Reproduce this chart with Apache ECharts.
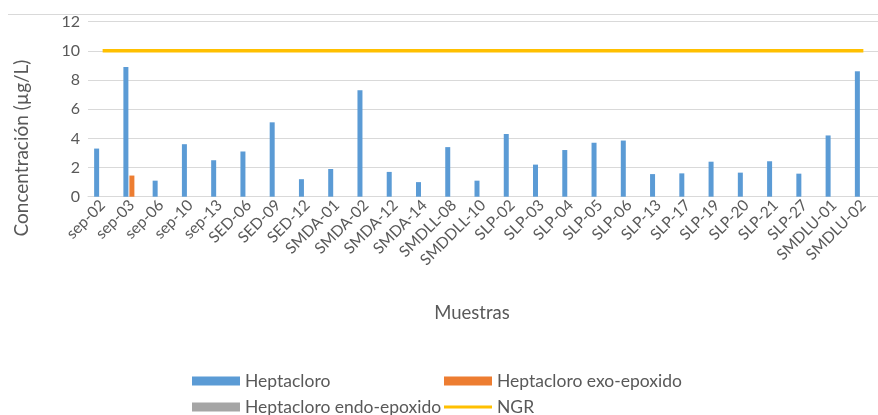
<!DOCTYPE html>
<html>
<head>
<meta charset="utf-8">
<script src="https://cdn.jsdelivr.net/npm/echarts@6/dist/echarts.min.js"></script>
<style>
  html, body { margin: 0; padding: 0; background: #fff; }
  #chart { width: 878px; height: 415px; }
</style>
</head>
<body>
<div id="chart"></div>
<script>
// Sample identifiers
const muestras = ['sep-02','sep-03','sep-06','sep-10','sep-13','SED-06','SED-09','SED-12',
  'SMDA-01','SMDA-02','SMDA-12','SMDA-14','SMDLL-08','SMDDLL-10','SLP-02','SLP-03','SLP-04',
  'SLP-05','SLP-06','SLP-13','SLP-17','SLP-19','SLP-20','SLP-21','SLP-27','SMDLU-01','SMDLU-02'];

// Concentrations (µg/L)
const heptacloro = [3.3, 8.9, 1.1, 3.6, 2.5, 3.1, 5.1, 1.2, 1.9, 7.3, 1.7, 1.0, 3.4, 1.1, 4.3,
  2.2, 3.2, 3.7, 3.85, 1.55, 1.6, 2.4, 1.65, 2.43, 1.58, 4.2, 8.6];
const exoEpoxido = [null, 1.45, null, null, null, null, null, null, null, null, null, null, null,
  null, null, null, null, null, null, null, null, null, null, null, null, null, null];
const endoEpoxido = [null, null, null, null, null, null, null, null, null, null, null, null, null,
  null, null, null, null, null, null, null, null, null, null, null, null, null, null];
const ngr = [10, 10, 10, 10, 10, 10, 10, 10, 10, 10, 10, 10, 10, 10, 10, 10, 10, 10, 10, 10,
  10, 10, 10, 10, 10, 10, 10];

// Value axis ticks
const yTicks = { min: 0, max: 12, interval: 2 };

const FONT = 'Lato';
const TXT = '#595959';
const GRID = '#d9d9d9';

const chart = echarts.init(document.getElementById('chart'));

function legendAt(name, left, top, h) {
  return {
    data: [{ name: name, icon: 'rect' }],
    left: left, top: top, padding: 0,
    itemWidth: 48, itemHeight: h,
    textStyle: { color: TXT, fontFamily: FONT, fontSize: 17.5 },
    selectedMode: false
  };
}

chart.setOption({
  animation: false,
  textStyle: { fontFamily: FONT },
  grid: { left: 88, right: -4, top: 21.7, bottom: 218.3, containLabel: false },
  legend: [
    legendAt('Heptacloro', 192, 372, 9),
    legendAt('Heptacloro exo-epoxido', 444, 372, 9),
    legendAt('Heptacloro endo-epoxido', 192, 398, 9),
    legendAt('NGR', 444, 398, 3)
  ],
  xAxis: {
    type: 'category',
    data: muestras,
    boundaryGap: true,
    axisLine: { lineStyle: { color: GRID, width: 1 } },
    axisTick: { show: false },
    axisLabel: { rotate: 45, interval: 0, color: TXT, fontFamily: FONT, fontSize: 15.5, margin: 6 }
  },
  yAxis: {
    type: 'value',
    min: yTicks.min, max: yTicks.max, interval: yTicks.interval,
    axisLine: { show: false },
    axisTick: { show: false },
    axisLabel: { color: TXT, fontFamily: FONT, fontSize: 16, margin: 8 },
    splitLine: { lineStyle: { color: GRID, width: 1 } }
  },
  series: [
    { name: 'Heptacloro', type: 'bar', data: heptacloro, barWidth: 5, barGap: '20%',
      itemStyle: { color: '#5B9BD5' } },
    { name: 'Heptacloro exo-epoxido', type: 'bar', data: exoEpoxido, barWidth: 5, barGap: '20%',
      itemStyle: { color: '#ED7D31' } },
    { name: 'Heptacloro endo-epoxido', type: 'bar', data: endoEpoxido, barWidth: 5, barGap: '20%',
      itemStyle: { color: '#A5A5A5' } },
    { name: 'NGR', type: 'line', data: ngr, symbol: 'none', z: 5,
      lineStyle: { color: '#FFC000', width: 3.5 }, itemStyle: { color: '#FFC000' } }
  ],
  graphic: [
    { type: 'line', shape: { x1: 8, y1: 14.5, x2: 878, y2: 14.5 },
      style: { stroke: GRID, lineWidth: 1 }, silent: true },
    // Axis titles
    { type: 'text', x: 22, y: 148, rotation: Math.PI / 2, silent: true,
      style: { text: 'Concentración (µg/L)', fill: TXT, font: '19px Lato',
               align: 'center', verticalAlign: 'middle' } },
    { type: 'text', x: 472, y: 313, silent: true,
      style: { text: 'Muestras', fill: TXT, font: '18.5px Lato',
               align: 'center', verticalAlign: 'middle' } }
  ]
});
</script>
</body>
</html>
